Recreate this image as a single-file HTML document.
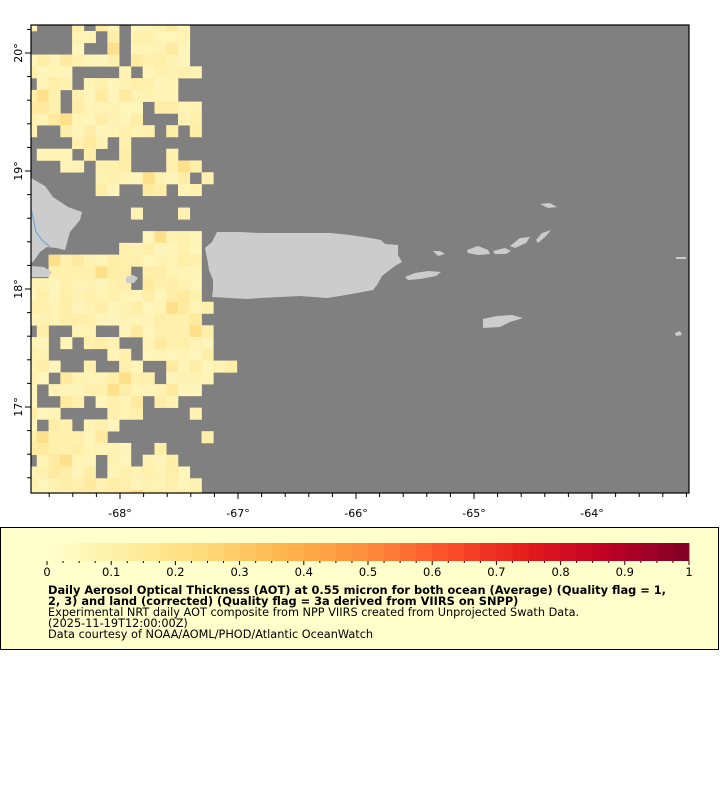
<!DOCTYPE html>
<html><head><meta charset="utf-8"><style>
html,body{margin:0;padding:0;background:#fff;width:720px;height:800px;overflow:hidden}
svg{display:block}
text{font-family:"DejaVu Sans","Liberation Sans",sans-serif}
</style></head><body>
<svg id="s" width="720" height="800" xmlns="http://www.w3.org/2000/svg">
<rect x="31" y="25" width="658" height="468" fill="#808080"/>
<g id="cells"></g>
<g fill="#cccccc">
<polygon points="31,178 45,186 53,197 68,207 82,212 80,220 70,232 65,250 56,248 47,247 40,252 33,262 31,262"/>
<polygon points="31,266 44,267 52,272 48,277 31,277"/>
<polygon points="126,277 133,275 138,278 134,283 126,283"/>
<polygon points="205,248 212,242 215,236 217,232 240,232 260,233 300,233 330,233 350,235 370,238 381,240 385,244 398,245 398,255 402,262 395,266 387,272 382,276 377,285 373,290 357,293 340,296 327,298 300,296 280,297 260,298 247,299 230,298 212,297 213,290 213,280 209,270 207,258"/>
<polygon points="405,277 415,273 428,271 441,272 436,276 420,279 408,280"/>
<polygon points="483,319 497,316 512,315 523,318 510,322 500,327 483,328"/>
<polygon points="467,250 478,246 488,250 490,254 478,255 468,253"/>
<polygon points="493,251 505,248 511,251 506,254 495,254"/>
<polygon points="510,246 520,238 530,237 526,243 515,248"/>
<polygon points="536,240 542,233 551,230 546,236 538,243"/>
<polygon points="433,251 440,251 445,254 438,256"/>
<polygon points="540,204 550,203 557,207 548,208"/>
<polygon points="675,333 680,331 682,335 676,336"/>
<rect x="676" y="257" width="10" height="2"/>
</g>
<polyline points="32,212 34,222 36,232 42,240 50,247" fill="none" stroke="#6aa0d0" stroke-width="1"/>
<rect x="31" y="25" width="658" height="468" fill="none" stroke="#000" stroke-width="1.2"/>
<g id="ticks" stroke="#000" stroke-width="1"></g>
<g font-size="11" fill="#000" id="labels"></g>
<rect x="0.5" y="527.5" width="718" height="122" fill="#ffffcc" stroke="#000" stroke-width="1"/>
<g id="bar"></g>
<g font-size="11.3" fill="#000">
<text x="48" y="594" font-weight="bold" font-size="11.4">Daily Aerosol Optical Thickness (AOT) at 0.55 micron for both ocean (Average) (Quality flag = 1,</text>
<text x="48" y="605" font-weight="bold" font-size="11.4">2, 3) and land (corrected) (Quality flag = 3a derived from VIIRS on SNPP)</text>
<text x="48" y="616">Experimental NRT daily AOT composite from NPP VIIRS created from Unprojected Swath Data.</text>
<text x="48" y="627">(2025-11-19T12:00:00Z)</text>
<text x="48" y="638">Data courtesy of NOAA/AOML/PHOD/Atlantic OceanWatch</text>
</g>
</svg>
<script>
var NS="http://www.w3.org/2000/svg";
function el(p,t,a,txt){var e=document.createElementNS(NS,t);for(var k in a)e.setAttribute(k,a[k]);if(txt!==undefined)e.textContent=txt;p.appendChild(e);return e;}
var rows=[
"YgggYgYYgYYYYYggg",
"ggggYYgYgYYYYYggg",
"ggggYggYgYYYYYggg",
"YYYYYYYYgYYYYYggg",
"YYYYggggYgYYYYYgg",
"gYYYgYYYYYYYYgggg",
"YYYgYYYYYYYYYgggg",
"YYYgYYYYYYgYYYYgg",
"YYYYYYYYYYgggYYgg",
"YggYYYYYYYYgYgYgg",
"ggggYYYgYgggggggg",
"gYYYgYggYgggYgggg",
"gggYYgYYYgggYYYgg",
"ggggggYYYYYYYYgYg",
"ggggggYYggYYgYYgg",
"ggggggggggggggggg",
"gggggggggYgggYggg",
"ggggggggggggggggg",
"ggggggggggYYYYYgg",
"ggggggggYYYYYYYgg",
"ggYYYYYYYYYYYYYgg",
"ggYYYYYYYgYYYYYgg",
"YYYYYYYYYgYYYYYgg",
"YYYYYYYYYYYYYYYgg",
"YYYYYYYYYYYYYYYYg",
"YYYYYYYYYYYYYYYgg",
"gYggYYggYYYYYYYYg",
"YYgYgYYYggYYYYYYg",
"YYgggggYYgYYYYYYg",
"YYYggYggYYggYYYYYY",
"YYgYYYYYYYYgYYYYg",
"YgYYYYYYYYYYYYYgg",
"YggYYgYYYYgYYgggg",
"YYYggggYYYggggYgg",
"YgYYgYYYggggggggg",
"YYYYYYYggggggggYg",
"YYYYYYYYYggYggggg",
"gYYYYYgYYgYYYgggg",
"YYYYYYgYYYYYYYggg",
"YYYYYYYYYYYYYYYgg",
"YYYYYYYYYYYYYYYgg"];
var pal=["#fff2b2","#fff4b9","#fff0ad","#ffeea8","#fff3b5","#ffeaa0","#ffe08a"];
var g=document.getElementById("cells");var cw=11.77;
for(var r=0;r<rows.length;r++){var y0=r==0?25:31+cw*(r-1);var y1=31+cw*r;if(y1>493)y1=493;if(y0>=493)break;
for(var c=0;c<rows[r].length;c++){if(rows[r][c]!="Y")continue;var x0=c==0?31:25+cw*c;var x1=25+cw*(c+1);
var h=(r*7+c*13+r*c)%29;var col=pal[h%5];if(h==3)col=pal[6];if(h==11||h==20)col=pal[5];
el(g,"rect",{x:x0.toFixed(2),y:y0.toFixed(2),width:(x1-x0+0.3).toFixed(2),height:(y1-y0+0.3).toFixed(2),fill:col});}}
var t=document.getElementById("ticks"),L=document.getElementById("labels");
var px=118;
for(var lon=-68.6;lon<=-63.15;lon+=0.2){var x=120+(lon+68)*px;if(x<31||x>689)continue;var maj=Math.abs(lon-Math.round(lon))<0.01;
el(t,"line",{x1:x,y1:493,x2:x,y2:maj?499:497});if(maj)el(L,"text",{x:x,y:517,"text-anchor":"middle"},Math.round(lon)+"°");}
for(var lat=16.4;lat<=20.25;lat+=0.2){var y=53+(20-lat)*px;if(y<25||y>493)continue;var maj=Math.abs(lat-Math.round(lat))<0.01;
el(t,"line",{x1:maj?25:27,y1:y,x2:31,y2:y});if(maj){el(L,"text",{x:0,y:0,"text-anchor":"middle",transform:"translate(22,"+y+") rotate(-90)"},Math.round(lat)+"°");}}
var b=document.getElementById("bar");
var stops=[[0,[255,255,204]],[0.125,[255,237,160]],[0.25,[254,217,118]],[0.375,[254,178,76]],[0.5,[253,141,60]],[0.625,[252,78,42]],[0.75,[227,26,28]],[0.875,[189,0,38]],[1,[128,0,38]]];
function cm(v){for(var i=1;i<stops.length;i++){if(v<=stops[i][0]){var a=stops[i-1],c=stops[i],f=(v-a[0])/(c[0]-a[0]);return "rgb("+[0,1,2].map(function(k){return Math.round(a[1][k]+(c[1][k]-a[1][k])*f)}).join(",")+")";}}return "rgb(128,0,38)";}
var n=40,bx=47,bw=642;
for(var i=0;i<n;i++){el(b,"rect",{x:(bx+bw*i/n).toFixed(2),y:543,width:(bw/n+0.4).toFixed(2),height:18,fill:cm((i+0.5)/n)});}
for(var i=0;i<=40;i++){var x=bx+bw*i/40;el(b,"line",{x1:x,y1:561,x2:x,y2:i%4==0?565:563,stroke:"#000"});}
for(var i=0;i<=10;i++){var x=bx+bw*i/10;el(b,"text",{x:x,y:576,"text-anchor":"middle","font-size":"11.5"},i==0?"0":i==10?"1":(i/10).toFixed(1));}
</script>
</body></html>
